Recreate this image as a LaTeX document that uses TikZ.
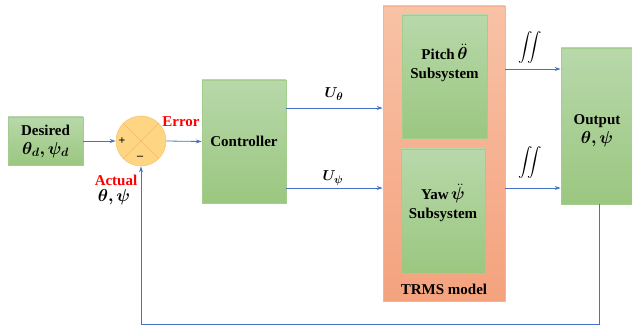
\documentclass[tikz,border=0pt]{standalone}
\usepackage{amsmath}
\usepackage{bm}
\usepackage{fontspec}
\setmainfont{Liberation Serif}
\usetikzlibrary{arrows.meta}
\definecolor{gtop}{HTML}{B8D8AA}
\definecolor{gbot}{HTML}{9BC780}
\definecolor{gedge}{HTML}{A3CD8C}
\definecolor{otop}{HTML}{F8C2A6}
\definecolor{obot}{HTML}{F4A27E}
\definecolor{oedge}{HTML}{F6B393}
\definecolor{sumfill}{HTML}{FED583}
\definecolor{sumedge}{HTML}{F8C774}
\definecolor{sumx}{HTML}{F2BB6A}
\definecolor{arrblue}{HTML}{4472C4}
\definecolor{errred}{HTML}{FF0000}
\newcommand{\mybigmath}[1]{{\fontsize{16.5}{19}\selectfont$\bm{#1}$}}
\tikzset{
  greenbox/.style={draw=gedge, line width=0.6pt, top color=gtop, bottom color=gbot, inner sep=0pt},
  trmsbox/.style={draw=oedge, line width=0.6pt, top color=otop, bottom color=obot, inner sep=0pt},
  sumnode/.style={circle, draw=sumedge, line width=0.6pt, fill=sumfill, minimum size=50pt, inner sep=0pt},
  arr/.style={draw=arrblue, line width=0.8pt, -{Stealth[length=6pt,width=4pt]}},
  txt/.style={font=\fontsize{15}{19}\selectfont\bfseries, align=center, inner sep=0pt},
  redtxt/.style={txt, text=errred},
  signtxt/.style={font=\fontsize{12}{13}\selectfont\bfseries, inner sep=0pt},
  inttxt/.style={inner sep=0pt, font=\fontsize{14}{16}\selectfont},
}
\begin{document}
\begin{tikzpicture}[x=1pt,y=-1pt]
\useasboundingbox (0,0) rectangle (632,326);
% boxes
\node[greenbox, minimum width=75pt, minimum height=48pt] (desired) at (45.5,141) {};
\node[txt] (desiredtxt) at (45.5,141) {Desired\\\mybigmath{\theta_d, \psi_d}};
\node[sumnode] (sum) at (141,141) {};
\draw[sumx, line width=0.6pt] (sum.north east) -- (sum.south west);
\draw[sumx, line width=0.6pt] (sum.north west) -- (sum.south east);
\node[signtxt] (plus) at (122,141) {+};
\node[signtxt] (minus) at (140,158) {--};
\node[greenbox, minimum width=84pt, minimum height=123pt] (controller) at (244,141.5) {};
\node[txt] (controllertxt) at (244,141) {Controller};
\node[trmsbox, minimum width=122pt, minimum height=295pt] (trms) at (444,153.5) {};
\node[greenbox, minimum width=85pt, minimum height=123pt] (pitch) at (444.5,76.5) {};
\node[txt] (pitchtxt) at (444.5,63) {Pitch\,\mybigmath{\ddot{\theta}}\\Subsystem};
\node[greenbox, minimum width=84pt, minimum height=124pt] (yaw) at (443,211) {};
\node[txt] (yawtxt) at (443,203) {Yaw\,\mybigmath{\ddot{\psi}}\\Subsystem};
\node[txt] (trmstxt) at (444,289) {TRMS model};
\node[greenbox, minimum width=72pt, minimum height=156pt] (output) at (597,126) {};
\node[txt] (outputtxt) at (597,131) {Output\\\mybigmath{\theta, \psi}};
% labels
\node[redtxt] (errortxt) at (181,122) {Error};
\node[redtxt] (actualtxt) at (116,180) {Actual};
\node[txt] (actualsym) at (114,197) {\mybigmath{\theta, \psi}};
\node[txt] (uth) at (334,94) {$\bm{U_\theta}$};
\node[txt] (ups) at (333,178) {$\bm{U_\psi}$};
\node[inttxt] (int1) at (530,48) {$\displaystyle\iint$};
\node[inttxt] (int2) at (530,163) {$\displaystyle\iint$};
% coordinates
\coordinate (yth) at (0,108);
\coordinate (yps) at (0,188);
\coordinate (ypo) at (0,69);
\coordinate (fb) at (599,324);
% connectors
\draw[arr] (desired.east) -- (sum.west);
\draw[arr] (sum.east) -- (controller.west);
\draw[arr] (controller.east |- yth) -- (trms.west |- yth);
\draw[arr] (controller.east |- yps) -- (trms.west |- yps);
\draw[arr] (trms.east |- ypo) -- (output.west |- ypo);
\draw[arr] (trms.east |- yps) -- (output.west |- yps);
\draw[arr] (fb |- output.south) -- (fb) -| (sum.south);
\end{tikzpicture}
\end{document}
